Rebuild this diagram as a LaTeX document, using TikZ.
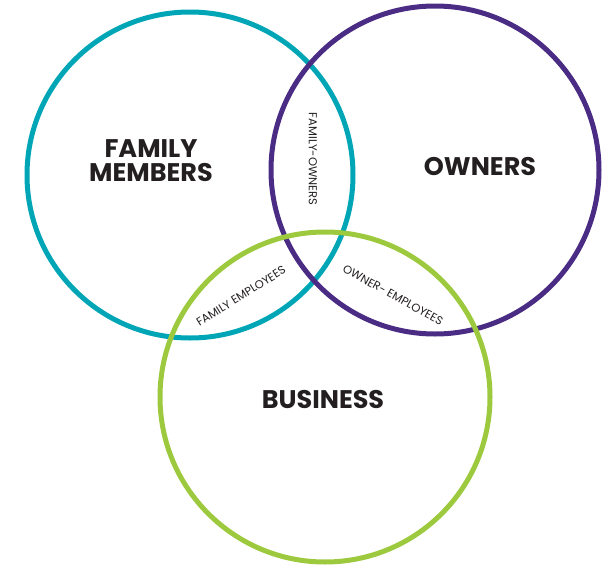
\documentclass[tikz,border=0pt]{standalone}
\usepackage{fontspec}
\setmainfont{Poppins}
\usepackage{xcolor}
\usepackage{tikz}
\definecolor{famteal}{HTML}{00A6B6}
\definecolor{ownpurple}{HTML}{4A2C85}
\definecolor{busgreen}{HTML}{9CC93D}
\definecolor{labelgray}{HTML}{231F20}
\tikzset{
	ring/.style={line width=5pt},
	biglabel/.style={text=labelgray, font=\fontsize{25.5}{26}\selectfont\bfseries, align=center},
	smalllabel/.style={text=labelgray, font=\fontsize{11.5}{12}\selectfont, inner sep=0pt}
}

\begin{document}
\begin{tikzpicture}[x=1pt, y=-1pt]
	\useasboundingbox (0,0) rectangle (603,565);
	\draw[ring, famteal] (190,175) circle (163);
	\draw[ring, ownpurple] (435,170) circle (164);
	\draw[ring, busgreen] (325,397) circle (165);
	\node[biglabel] (family) at (151,161) {FAMILY\\[-2pt]MEMBERS};
	\node[biglabel] (owners) at (480,167) {OWNERS};
	\node[biglabel] (business) at (323,400) {BUSINESS};
	\node[smalllabel, rotate=-90] (famown) at (313,159) {FAMILY-OWNERS};
	\node[smalllabel, rotate=32] (famemp) at (241,296) {FAMILY EMPLOYEES};
	\node[smalllabel, rotate=-29] (ownemp) at (393,295) {OWNER- EMPLOYEES};
\end{tikzpicture}
\end{document}
